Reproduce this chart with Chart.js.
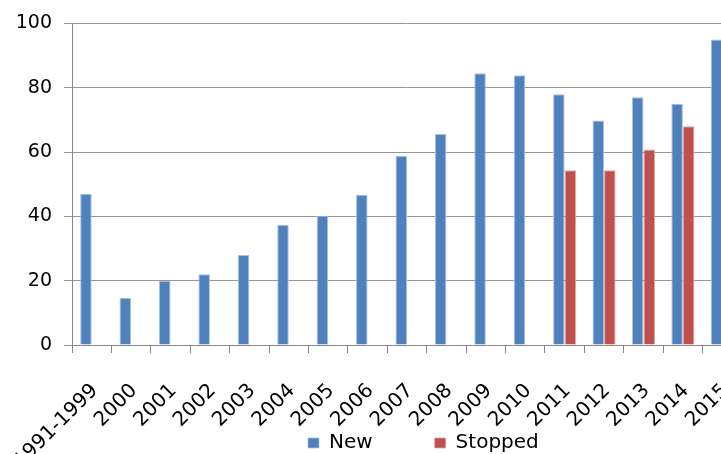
<!DOCTYPE html>
<html lang="en">
<head>
    <meta charset="UTF-8">
    <title>New vs Stopped</title>
    <script src="https://cdn.jsdelivr.net/npm/chart.js"></script>
</head>
<body style="margin:0;overflow:hidden;background:#fff;">

    <div style="position:absolute;left:0;top:0;width:760px;height:470px;">
        <canvas id="myChart" width="760" height="470"></canvas>
    </div>

    <script>
        // data
        const years = ['1991-1999', '2000', '2001', '2002', '2003', '2004', '2005', '2006', '2007',
            '2008', '2009', '2010', '2011', '2012', '2013', '2014', '2015'];
        const newValues = [47, 14.7, 20, 22, 28, 37.4, 40.2, 46.7, 58.8, 65.6, 84.5, 83.9, 78, 69.8, 77, 75, 95];
        const stoppedValues = [null, null, null, null, null, null, null, null, null, null, null, null, 54.3, 54.3, 60.8, 68, null];
        const yTicks = [0, 20, 40, 60, 80, 100];

        const yFont = { family: 'DejaVu Sans, sans-serif', size: 19 };
        const xFont = { family: 'DejaVu Sans, sans-serif', size: 20 };
        const legendFont = { family: 'DejaVu Sans, sans-serif', size: 20 };

        // legend sits over the lower part of the label box (original chart was wider than this crop)
        const legendPlace = {
            id: 'legendPlace',
            afterLayout(chart) {
                chart.legend.left = 246;
                chart.legend.top = 371;
            }
        };

        new Chart(document.getElementById('myChart'), {
            type: 'bar',
            data: {
                labels: years,
                datasets: [
                    {
                        label: 'New',
                        data: newValues,
                        backgroundColor: '#4f81bd',
                        borderColor: '#a7c0de',
                        borderWidth: { top: 1, left: 1, right: 1, bottom: 0 },
                        barPercentage: 1,
                        categoryPercentage: 0.585
                    },
                    {
                        label: 'Stopped',
                        data: stoppedValues,
                        backgroundColor: '#c0504d',
                        borderColor: '#dca6a5',
                        borderWidth: { top: 1, left: 1, right: 1, bottom: 0 },
                        barPercentage: 1,
                        categoryPercentage: 0.585
                    }
                ]
            },
            options: {
                responsive: false,
                animation: false,
                devicePixelRatio: 1,
                layout: { padding: { left: 0, right: 18, top: 11, bottom: 0 } },
                plugins: {
                    tooltip: { enabled: false },
                    legend: {
                        position: 'bottom',
                        align: 'start',
                        maxHeight: 1,
                        labels: {
                            font: legendFont,
                            color: '#000',
                            boxWidth: 11,
                            boxHeight: 10,
                            padding: 62
                        }
                    }
                },
                scales: {
                    x: {
                        afterFit: (scale) => {
                            scale.height = 124;
                            scale.paddingLeft = 0;
                            scale.paddingRight = 0;
                        },
                        grid: {
                            drawOnChartArea: false,
                            color: '#888',
                            tickLength: 8
                        },
                        border: { color: '#888', width: 1 },
                        ticks: {
                            font: xFont,
                            color: '#000',
                            maxRotation: 45,
                            minRotation: 45,
                            autoSkip: false,
                            labelOffset: 3,
                            padding: 26
                        }
                    },
                    y: {
                        min: 0,
                        max: 100,
                        afterFit: (scale) => { scale.width = 72; },
                        afterBuildTicks: (scale) => { scale.ticks = yTicks.map(v => ({ value: v })); },
                        grid: { color: '#969696', tickLength: 8 },
                        border: { color: '#888', width: 1 },
                        ticks: { font: yFont, color: '#000', padding: 12 }
                    }
                }
            },
            plugins: [legendPlace]
        });
    </script>

</body>
</html>
